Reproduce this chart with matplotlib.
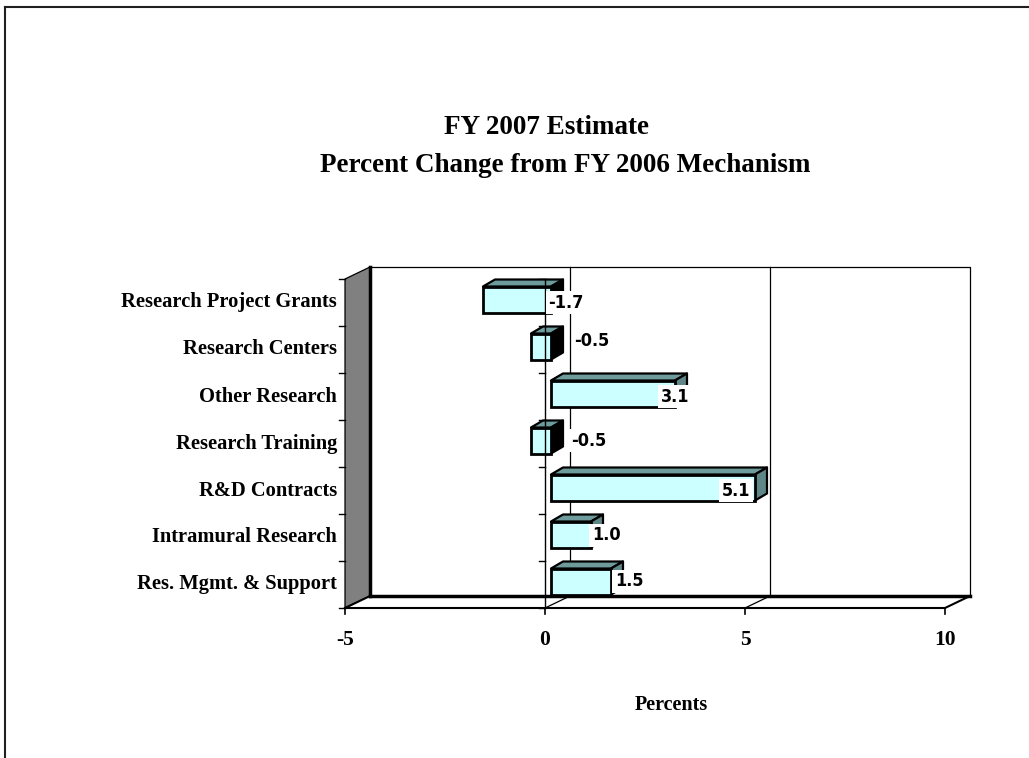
import matplotlib
matplotlib.use('Agg')
import matplotlib.pyplot as plt
from matplotlib import font_manager
from matplotlib.font_manager import FontProperties
from matplotlib.patches import Polygon, Rectangle
from matplotlib.lines import Line2D

# data
categories = ['Research Project Grants', 'Research Centers', 'Other Research',
              'Research Training', 'R&D Contracts', 'Intramural Research',
              'Res. Mgmt. & Support']
pct_change = [-1.7, -0.5, 3.1, -0.5, 5.1, 1.0, 1.5]
x_ticks = [-5, 0, 5, 10]
title_lines = ['FY 2007 Estimate', 'Percent Change from FY 2006 Mechanism']
x_title = 'Percents'

# label nudges in pixels (Excel put them a bit all over the place)
label_dx = [15, 41, 0, 38, -19, 15, 18]
label_dy = [0, 9, 0, 3, 0, 2, 3]

SERIF = 'Liberation Serif'

# narrow bold sans for the value labels if there is one, else plain bold sans
numprop = None
for f in font_manager.fontManager.ttflist:
    fn = f.fname.lower()
    if ('narrow' in fn or 'condensed' in fn) and 'bold' in fn and 'oblique' not in fn \
            and 'italic' not in fn and ('liberation' in fn or 'dejavusans' in fn):
        numprop = FontProperties(fname=f.fname, size=15.5 if 'liberation' in fn else 13)
        if 'liberation' in fn:
            break
if numprop is None:
    numprop = FontProperties(family='Liberation Sans', weight='bold', size=13.5)

W, H = 1029, 758
fig = plt.figure(figsize=(W / 100, H / 100), dpi=100)

# front plane of the 3d box, in pixels
L, R, T, B = 345, 945, 279, 608
ax = fig.add_axes([L / W, 1 - B / H, (R - L) / W, (B - T) / H])
n = len(categories)
ax.set_xlim(x_ticks[0], x_ticks[-1])
ax.set_ylim(n - 0.5, -0.5)
ax.axis('off')

ux = (R - L) / (x_ticks[-1] - x_ticks[0])
uy = (B - T) / n


def off(px, py):
    # pixel shift (right, up) -> data shift
    return px / ux, -py / uy


x0, x1 = x_ticks[0], x_ticks[-1]
y0, y1 = -0.5, n - 0.5
dX, dY = off(25, 12)
kw = dict(clip_on=False)

# back wall
ax.add_patch(Polygon([(x0 + dX, y0 + dY), (x1 + dX, y0 + dY), (x1 + dX, y1 + dY),
                      (x0 + dX, y1 + dY)], fc='white', ec='none', zorder=1, **kw))
ax.plot([x0 + dX, x1 + dX, x1 + dX], [y0 + dY, y0 + dY, y1 + dY], color='black', lw=0.9, zorder=2, **kw)
for t in x_ticks[1:-1]:
    ax.plot([t + dX, t + dX], [y0 + dY, y1 + dY], color='black', lw=0.9, zorder=2, **kw)

# left side wall
ax.add_patch(Polygon([(x0, y0), (x0 + dX, y0 + dY), (x0 + dX, y1 + dY), (x0, y1)],
                     fc='#808080', ec='black', lw=0.9, zorder=3, **kw))
ax.plot([x0 + dX, x0 + dX], [y0 + dY, y1 + dY], color='black', lw=2.5, zorder=4, **kw)

# floor
ax.add_patch(Polygon([(x0, y1), (x1, y1), (x1 + dX, y1 + dY), (x0 + dX, y1 + dY)],
                     fc='white', ec='none', zorder=3, **kw))
ax.plot([x0 + dX, x1 + dX], [y1 + dY, y1 + dY], color='black', lw=2.5, zorder=4, **kw)
ax.plot([x0, x1, x1 + dX], [y1, y1, y1 + dY], color='black', lw=1.5, zorder=4, **kw)
ax.plot([x0, x0 + dX], [y1, y1 + dY], color='black', lw=1.5, zorder=4, **kw)
for t in x_ticks[1:-1]:
    ax.plot([t, t + dX], [y1, y1 + dY], color='black', lw=0.9, zorder=4, **kw)

# x ticks + labels
tl = off(0, -6)[1]
for t in x_ticks:
    ax.plot([t, t], [y1, y1 + tl], color='black', lw=1.2, zorder=4, **kw)
    ax.text(t, y1 + off(0, -32)[1], str(t), ha='center', va='center',
            family=SERIF, weight='bold', fontsize=15.5, **kw)

# category ticks on the left edge and on the zero line
tw = off(6, 0)[0]
for k in range(n + 1):
    yb = k - 0.5
    ax.plot([x0 - tw, x0], [yb, yb], color='black', lw=1.0, zorder=4, **kw)
    ax.plot([-tw, 0], [yb, yb], color='black', lw=1.0, zorder=4, **kw)

# category labels
for i, c in enumerate(categories):
    ax.text(x0 - off(8, 0)[0], i, c, ha='right', va='center',
            family=SERIF, weight='bold', fontsize=14.8, **kw)

# bars
h = 26 / uy
fx, fy = off(6, 3)
bx, by = off(12, 7)
for i, v in enumerate(pct_change):
    xa = min(0, v) + fx
    xb = max(0, v) + fx
    yt = i - h / 2 + fy
    yb = i + h / 2 + fy
    ax.add_patch(Polygon([(xa, yt), (xb, yt), (xb + bx, yt + by), (xa + bx, yt + by)],
                         fc='#6E9C9C', ec='black', lw=1.6, joinstyle='round', zorder=5, **kw))
    ax.add_patch(Polygon([(xb, yt), (xb + bx, yt + by), (xb + bx, yb + by), (xb, yb)],
                         fc='black' if v < 0 else '#5F8787', ec='black', lw=1.6,
                         joinstyle='round', zorder=5, **kw))
    ax.add_patch(Rectangle((xa, yt), xb - xa, h, fc='#CCFFFF', ec='black', lw=2,
                           zorder=6, **kw))

# zero axis line on the front plane
ax.plot([0, 0], [y0, y1], color='black', lw=1.0, zorder=7, **kw)

# value labels
for i, v in enumerate(pct_change):
    lx = max(0, v) + fx + off(label_dx[i], 0)[0]
    ly = i + off(0, label_dy[i])[1]
    ax.text(lx, ly, '%.1f' % v, ha='center', va='center', fontproperties=numprop,
            zorder=8, bbox=dict(fc='white', ec='none', pad=2), **kw)

# titles
fig.text(546 / W, 1 - 128 / H, title_lines[0], ha='center', va='center',
         family=SERIF, weight='bold', fontsize=19.5)
fig.text(565 / W, 1 - 165 / H, title_lines[1], ha='center', va='center',
         family=SERIF, weight='bold', fontsize=19.5)
fig.text(671 / W, 1 - 705 / H, x_title, ha='center', va='center',
         family=SERIF, weight='bold', fontsize=14.5)

# outer frame (top and left only)
fig.add_artist(Line2D([5 / W, 1], [1 - 7 / H] * 2, color='#202020', lw=1.5))
fig.add_artist(Line2D([5 / W] * 2, [1 - 7 / H, 0], color='#202020', lw=1.5))

fig.savefig('out.png', dpi=100)
